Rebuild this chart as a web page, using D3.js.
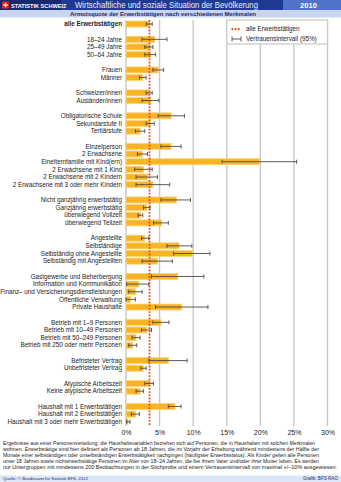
<!DOCTYPE html>
<html>
<head>
<meta charset="utf-8">
<script src="https://cdn.jsdelivr.net/npm/d3@7"></script>
<style>
  body { margin: 0; background: #fff; }
  svg { display: block; font-family: "Liberation Sans", Arial, sans-serif; }
</style>
</head>
<body>
<div id="chart"></div>
<script>
// data (Armutsquote in %)
const labels = [
  "alle Erwerbstätigen",
  "18–24 Jahre", "25–49 Jahre", "50–64 Jahre",
  "Frauen", "Männer",
  "Schweizer/innen", "Ausländer/innen",
  "Obligatorische Schule", "Sekundarstufe II", "Tertiärstufe",
  "Einzelperson", "2 Erwachsene", "Einelternfamilie mit Kind(ern)", "2 Erwachsene mit 1 Kind",
  "2 Erwachsene mit 2 Kindern", "2 Erwachsene mit 3 oder mehr Kindern",
  "Nicht ganzjährig erwerbstätig", "Ganzjährig erwerbstätig", "überwiegend Vollzeit", "überwiegend Teilzeit",
  "Angestellte", "Selbständige", "Selbständig ohne Angestellte", "Selbständig mit Angestellten",
  "Gastgewerbe und Beherbergung", "Information und Kommunikation", "Finanz– und Versicherungsdienstleistungen",
  "Öffentliche Verwaltung", "Private Haushalte",
  "Betrieb mit 1–9 Personen", "Betrieb mit 10–49 Personen", "Betrieb mit 50–249 Personen", "Betrieb mit 250 oder mehr Personen",
  "Befristeter Vertrag", "Unbefristeter Vertrag",
  "Atypische Arbeitszeit", "Keine atypische Arbeitszeit",
  "Haushalt mit 1 Erwerbstätigen", "Haushalt mit 2 Erwerbstätigen", "Haushalt mit 3 oder mehr Erwerbstätigen"
];
const groupSizes = [1, 3, 2, 2, 3, 6, 4, 4, 5, 4, 2, 2, 3];
const rates = [3.5, 4.3, 3.5, 3.6, 4.8, 2.5, 3.4, 3.7, 6.7, 3.6, 2.1,
  6.7, 2.4, 19.9, 2.6, 3.2, 4.0, 7.5, 3.1, 2.2, 5.3,
  2.8, 7.9, 9.9, 4.7, 7.7, 1.9, 1.4, 0.7, 8.3,
  5.2, 3.1, 1.5, 1.0, 6.3, 2.6, 3.5, 2.1, 7.3, 1.4, 0.3];
const ciLow = [3.0, 2.4, 2.8, 2.8, 4.0, 2.0, 3.0, 2.4, 4.8, 3.0, 1.4,
  5.2, 1.7, 14.3, 1.3, 1.5, 1.5, 5.2, 2.6, 1.8, 4.1,
  2.3, 6.1, 7.1, 2.4, 3.8, 0.1, 0.4, 0.0, 4.4,
  4.0, 2.3, 0.9, 0.4, 3.4, 2.2, 2.8, 1.5, 6.3, 0.8, 0.1];
const ciHigh = [3.9, 6.1, 4.0, 4.4, 5.6, 3.0, 3.9, 4.9, 8.7, 4.2, 2.8,
  8.2, 3.2, 25.4, 3.9, 4.7, 6.5, 9.6, 3.6, 2.5, 6.3,
  3.4, 9.8, 12.5, 6.9, 11.6, 3.4, 2.4, 1.4, 12.2,
  6.4, 3.8, 2.1, 1.6, 9.1, 3.0, 4.1, 2.6, 8.2, 2.0, 0.6];
const overall = 3.5;
const ticks = [0, 5, 10, 15, 20, 25, 30];
const notes = [
  "Ergebnisse aus einer Personenverteilung: die Haushaltsvariablen beziehen sich auf Personen, die in Haushalten mit solchen Merkmalen",
  "wohnen. Erwerbstätige sind hier definiert als Personen ab 18 Jahren, die im Vorjahr der Erhebung während mindestens der Hälfte der",
  "Monate einer selbständigen oder unselbständigen Erwerbstätigkeit nachgingen (häufigster Erwerbsstatus). Als Kinder gelten alle Personen",
  "unter 18 Jahren sowie nichterwerbstätige Personen im Alter von 18–24 Jahren, die bei ihrem Vater und/oder ihrer Mutter leben. Es werden",
  "nur Untergruppen mit mindestens 200 Beobachtungen in der Stichprobe und einem Vertrauensintervall von maximal +/–10% ausgewiesen."
];
const noteWidths = [312, 316, 316, 316, 334];

const width = 341, height = 482;

// rows plus one empty slot between groups
const slots = [];
const rows = [];
let k = 0;
groupSizes.forEach((n, g) => {
  if (g > 0) slots.push("gap" + g);
  for (let i = 0; i < n; i++, k++) {
    slots.push("r" + k);
    rows.push({ id: "r" + k, label: labels[k], v: rates[k], lo: ciLow[k], hi: ciHigh[k] });
  }
});

const x = d3.scaleLinear().domain([0, 30]).range([126, 327.5]);
const y = d3.scaleBand().domain(slots).range([20.2, 425.6]);
const bh = 6;

const svg = d3.select('#chart').append('svg')
  .attr('width', width)
  .attr('height', height);

// header
svg.append('rect').attr('x', 0).attr('y', 0).attr('width', width).attr('height', 10).attr('fill', '#1f3a93');
svg.append('rect').attr('x', 0).attr('y', 0).attr('width', 61).attr('height', 10).attr('fill', '#17296e');
svg.append('rect').attr('x', 283).attr('y', 0).attr('width', 58).attr('height', 10).attr('fill', '#4f74c8');
svg.append('rect').attr('x', 2).attr('y', 1.5).attr('width', 7).attr('height', 7).attr('fill', '#e2231a');
svg.append('rect').attr('x', 4.9).attr('y', 2.7).attr('width', 1.3).attr('height', 4.6).attr('fill', '#fff');
svg.append('rect').attr('x', 3.2).attr('y', 4.4).attr('width', 4.6).attr('height', 1.3).attr('fill', '#fff');
svg.append('text').attr('x', 11).attr('y', 7.6).attr('fill', '#fff')
  .style('font-size', '5.6px').style('font-weight', 'bold').text('STATISTIK SCHWEIZ');
svg.append('text').attr('x', 75).attr('y', 8).attr('fill', '#e8eefc')
  .attr('textLength', 183).attr('lengthAdjust', 'spacingAndGlyphs')
  .style('font-size', '8.6px').text('Wirtschaftliche und soziale Situation der Bevölkerung');
svg.append('text').attr('x', 300).attr('y', 8).attr('fill', '#fff')
  .style('font-size', '7.6px').style('font-weight', 'bold').text('2010');
svg.append('rect').attr('x', 0).attr('y', 10).attr('width', width).attr('height', 7.5).attr('fill', '#c9d5ef');
svg.append('text').attr('x', 163).attr('y', 15.8).attr('text-anchor', 'middle').attr('fill', '#1b2c6b')
  .attr('textLength', 186).attr('lengthAdjust', 'spacingAndGlyphs')
  .style('font-size', '6px').style('font-weight', 'bold')
  .text('Armutsquote der Erwerbstätigen nach verschiedenen Merkmalen');

// gridlines
svg.append('g').selectAll('line')
  .data(ticks)
  .enter().append('line')
  .attr('x1', d => x(d)).attr('x2', d => x(d))
  .attr('y1', 20).attr('y2', 426)
  .attr('stroke', '#c8c8c8').attr('stroke-width', 1.4);

// legend box
svg.append('rect')
  .attr('x', x(15)).attr('y', 20)
  .attr('width', x(30) - x(15)).attr('height', 24)
  .attr('fill', '#fff').attr('stroke', '#c8c8c8').attr('stroke-width', 1.2);

// bars
svg.append('g').selectAll('rect')
  .data(rows)
  .enter().append('rect')
  .attr('x', x(0))
  .attr('y', d => y(d.id) + (y.bandwidth() - bh) / 2)
  .attr('width', d => x(d.v) - x(0))
  .attr('height', bh)
  .attr('fill', '#f9b425')
  .attr('stroke', '#fcd377').attr('stroke-width', 0.8);

// overall reference line
svg.append('line')
  .attr('x1', x(overall)).attr('x2', x(overall))
  .attr('y1', 20).attr('y2', 426)
  .attr('stroke', '#e8501e').attr('stroke-width', 1.8)
  .attr('stroke-dasharray', '1.8,1.4');

// confidence intervals
const ci = svg.append('g').selectAll('g')
  .data(rows)
  .enter().append('g')
  .attr('transform', d => `translate(0, ${y(d.id) + y.bandwidth() / 2})`)
  .attr('stroke', '#4a4a4a').attr('stroke-width', 0.9);
ci.append('line').attr('x1', d => x(d.lo)).attr('x2', d => x(d.hi)).attr('y1', 0).attr('y2', 0);
ci.append('line').attr('x1', d => x(d.lo)).attr('x2', d => x(d.lo)).attr('y1', -2).attr('y2', 2);
ci.append('line').attr('x1', d => x(d.hi)).attr('x2', d => x(d.hi)).attr('y1', -2).attr('y2', 2);

// category labels
svg.append('g').selectAll('text')
  .data(rows)
  .enter().append('text')
  .attr('x', 122)
  .attr('y', d => y(d.id) + y.bandwidth() / 2)
  .attr('dy', '0.35em')
  .attr('text-anchor', 'end')
  .attr('fill', '#222')
  .style('font-size', '6.3px')
  .style('font-weight', (d, i) => i === 0 ? 'bold' : 'normal')
  .text(d => d.label);

// legend entries
svg.append('line').attr('x1', 231.5).attr('x2', 241).attr('y1', 29).attr('y2', 29)
  .attr('stroke', '#e8501e').attr('stroke-width', 1.8).attr('stroke-dasharray', '1.8,1.4');
svg.append('text').attr('x', 246).attr('y', 29).attr('dy', '0.35em').attr('fill', '#222')
  .style('font-size', '6.3px').text('alle Erwerbstätigen');
const lg = svg.append('g').attr('stroke', '#4a4a4a').attr('stroke-width', 0.9);
lg.append('line').attr('x1', 232).attr('x2', 241).attr('y1', 39).attr('y2', 39);
lg.append('line').attr('x1', 232).attr('x2', 232).attr('y1', 36.5).attr('y2', 41.5);
lg.append('line').attr('x1', 241).attr('x2', 241).attr('y1', 36.5).attr('y2', 41.5);
svg.append('text').attr('x', 246).attr('y', 39).attr('dy', '0.35em').attr('fill', '#222')
  .style('font-size', '6.3px').text('Vertrauensintervall (95%)');

// x axis labels
svg.append('g')
  .attr('transform', 'translate(0, 426)')
  .call(d3.axisBottom(x).tickValues(ticks).tickSize(0).tickPadding(4).tickFormat(d => d + '%'))
  .call(g => g.select('.domain').remove())
  .call(g => g.selectAll('text').attr('fill', '#222').style('font-size', '7px')
    .style('font-family', '"Liberation Sans", Arial, sans-serif'));

// notes
svg.append('g').selectAll('text')
  .data(notes)
  .enter().append('text')
  .attr('x', 3)
  .attr('y', (d, i) => 445 + i * 5.9)
  .attr('textLength', (d, i) => noteWidths[i])
  .attr('lengthAdjust', 'spacingAndGlyphs')
  .attr('fill', '#222')
  .style('font-size', '5.3px')
  .text(d => d);

// footer
svg.append('rect').attr('x', 0).attr('y', 475.5).attr('width', width).attr('height', 6.5).attr('fill', '#dde6f6');
svg.append('text').attr('x', 3).attr('y', 480.3).attr('fill', '#1b2c6b')
  .style('font-size', '4.3px').text('Quelle: © Bundesamt für Statistik BFS, 2012');
svg.append('text').attr('x', 338).attr('y', 480.3).attr('text-anchor', 'end').attr('fill', '#1b2c6b')
  .style('font-size', '4.6px').text('Grafik: BFS  RAO');
</script>
</body>
</html>
